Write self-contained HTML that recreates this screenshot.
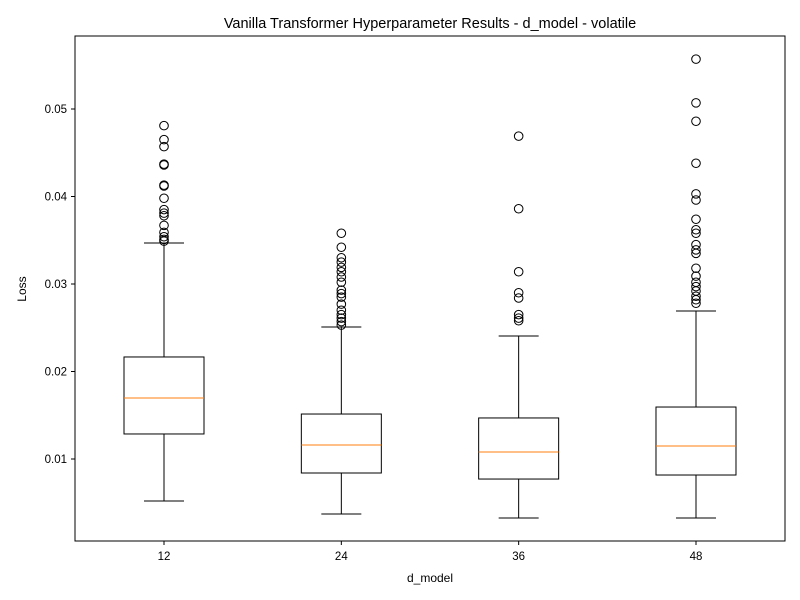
<!DOCTYPE html>
<html><head><meta charset="utf-8"><style>
body{margin:0;background:#fff}
svg{display:block;font-family:"Liberation Sans","DejaVu Sans",sans-serif}
</style></head><body>
<svg id="chart" width="800" height="600">
<rect x="0" y="0" width="800" height="600" fill="#fff"/>
<text x="430" y="28" text-anchor="middle" font-size="14.5">Vanilla Transformer Hyperparameter Results - d_model - volatile</text>
<g id="plot"></g>
<rect x="75" y="36" width="710" height="505" fill="none" stroke="#000" stroke-width="1"/>
<text x="430" y="582" text-anchor="middle" font-size="12">d_model</text>
<text x="26" y="289" text-anchor="middle" font-size="12" transform="rotate(-90 26 289)">Loss</text>
</svg>
<script>
const categories = ["12","24","36","48"];
const whiskerLow = [0.0052, 0.00371, 0.00326, 0.00326];
const q1Values = [0.01286, 0.0084, 0.00771, 0.00817];
const medians = [0.01697, 0.0116, 0.0108, 0.01149];
const q3Values = [0.02166, 0.01514, 0.01469, 0.01594];
const whiskerHigh = [0.03469, 0.02509, 0.02406, 0.02691];
const outliers12 = [0.0481,0.0465,0.0457,0.0437,0.0436,0.0413,0.0412,0.0398,0.0385,0.0381,0.0378,0.0367,0.0359,0.0354,0.0351,0.0349];
const outliers24 = [0.0358,0.0342,0.0330,0.0325,0.0319,0.0314,0.0308,0.0302,0.0293,0.0289,0.0285,0.0277,0.0270,0.0265,0.0261,0.0257,0.0253];
const outliers36 = [0.0469,0.0386,0.0314,0.0290,0.0284,0.0265,0.0261,0.0258];
const outliers48 = [0.0557,0.0507,0.0486,0.0438,0.0403,0.0396,0.0374,0.0362,0.0358,0.0345,0.0339,0.0335,0.0318,0.0309,0.0302,0.0297,0.0292,0.0286,0.0282,0.0278];
const yTicks = [0.01,0.02,0.03,0.04,0.05];
const yTickLabels = ["0.01","0.02","0.03","0.04","0.05"];

const outliers = [outliers12, outliers24, outliers36, outliers48];
const NS = "http://www.w3.org/2000/svg";
const g = document.getElementById("plot");
function yScale(v){ return 459 - (v - 0.01) * 8750; }
function xScale(i){ return 164 + i * 177.33; }
function mk(tag, attrs){ const e = document.createElementNS(NS, tag); for (const k in attrs) e.setAttribute(k, attrs[k]); g.appendChild(e); return e; }

yTicks.forEach((t, i) => {
  const y = yScale(t);
  const tk = mk("line", {x1:71, x2:75, y1:y, y2:y, stroke:"#000"});
  
  
  const lb = mk("text", {x:67, y:y+4, "text-anchor":"end", "font-size":"11.5"});
  lb.textContent = yTickLabels[i];
  
  
});

categories.forEach((c, i) => {
  const cx = xScale(i), hw = 40, cw = 20;
  const tk = mk("line", {x1:cx, x2:cx, y1:541, y2:545, stroke:"#000"});
  
  
  const lb = mk("text", {x:cx, y:560, "text-anchor":"middle", "font-size":"11.5"});
  lb.textContent = c;
  
  

  const wl = mk("line", {x1:cx, x2:cx, y1:yScale(q1Values[i]), y2:yScale(whiskerLow[i]), stroke:"#000"});
  
  
  const wh = mk("line", {x1:cx, x2:cx, y1:yScale(q3Values[i]), y2:yScale(whiskerHigh[i]), stroke:"#000"});
  
  
  const cl = mk("line", {x1:cx-cw, x2:cx+cw, y1:yScale(whiskerLow[i]), y2:yScale(whiskerLow[i]), stroke:"#000"});
  
  
  const ch = mk("line", {x1:cx-cw, x2:cx+cw, y1:yScale(whiskerHigh[i]), y2:yScale(whiskerHigh[i]), stroke:"#000"});
  
  
  const bx = mk("rect", {x:cx-hw, y:yScale(q3Values[i]), width:2*hw, height:yScale(q1Values[i])-yScale(q3Values[i]), fill:"none", stroke:"#000"});
  
  
  const md = mk("line", {x1:cx-hw, x2:cx+hw, y1:yScale(medians[i]), y2:yScale(medians[i]), stroke:"#ff7f0e"});
  
  
  outliers[i].forEach(v => {
    const o = mk("circle", {cx:cx, cy:yScale(v), r:4.3, fill:"none", stroke:"#000"});
    
    
  });
});
</script>
</body></html>
